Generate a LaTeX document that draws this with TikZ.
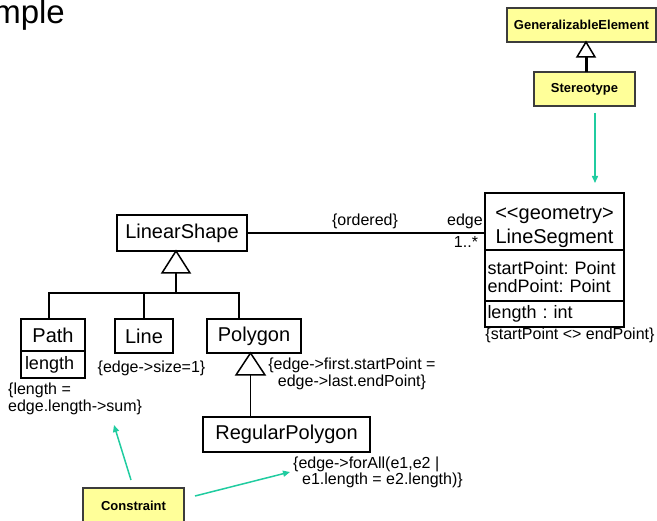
\documentclass[tikz,border=0pt]{standalone}
\usepackage{fontspec}
\setmainfont{Liberation Sans}
\usetikzlibrary{arrows.meta}
\frenchspacing

\definecolor{noteyellow}{RGB}{255,255,153}
\definecolor{linkteal}{RGB}{32,204,160}
\definecolor{boxgray}{RGB}{60,60,60}

\tikzset{
  cls/.style={draw, line width=1.5pt, fill=white, inner sep=0pt, outer sep=0pt,
    font=\fontsize{20pt}{24pt}\selectfont},
  attr/.style={cls, font=\fontsize{18pt}{18pt}\selectfont, align=left, text width=134pt},
  stereobox/.style={draw=boxgray, line width=1.5pt, fill=noteyellow, inner sep=0pt,
    outer sep=0pt, font=\bfseries\fontsize{13pt}{15pt}\selectfont},
  note/.style={font=\fontsize{16pt}{17pt}\selectfont, inner sep=0pt},
  heading/.style={font=\fontsize{33pt}{36pt}\selectfont, inner sep=0pt},
  wire/.style={line width=1.5pt},
  gentri/.style={line width=1.5pt, fill=white, line join=miter},
  dep/.style={linkteal, line width=1.5pt, -{Triangle[length=7pt,width=6pt]}},
}

\begin{document}
\begin{tikzpicture}[x=1pt,y=-1pt]
\clip (0,0) rectangle (657,521);

% page heading, partly off the page
\node[heading, anchor=base east] (title) at (65,24) {Example};

% stereotype metamodel
\node[stereobox, minimum width=149pt, minimum height=34pt] (genel) at (581.5,25) {GeneralizableElement};
\node[stereobox, minimum width=101pt, minimum height=34pt] (stereo) at (584.5,89) {Stereotype};
\draw[line width=3pt] ([xshift=1.5pt]stereo.north) -- ([xshift=4.5pt,yshift=-15pt]genel.south);
\draw[gentri] ([xshift=4.5pt]genel.south) -- ++(9,15) -- ++(-18,0) -- cycle;

% LineSegment class
\node[cls, minimum width=139pt, minimum height=57pt, align=center]
  (ls-a) at (554.5,221.5) {\rule{0pt}{24pt}<\kern0pt<geometry>\\LineSegment};
\node[attr, minimum width=139pt, minimum height=51pt] (ls-b) at (554.5,275.5) {\rule{0pt}{17pt}startPoint: Point\\endPoint: Point};
\node[attr, minimum width=139pt, minimum height=26pt] (ls-c) at (554.5,314) {length : int};
\node[note, anchor=base] (lsnote) at (570,340) {\{startPoint <> endPoint\}};

% LinearShape and its subclasses
\node[cls, minimum width=130pt, minimum height=36pt] (linear) at (182,233) {LinearShape};
\node[cls, minimum width=64pt, minimum height=32pt] (path-a) at (53,335) {Path};
\node[attr, text width=56pt, minimum width=64pt, minimum height=27pt] (path-b) at (53,364.5) {length};
\node[cls, minimum width=58pt, minimum height=34pt] (line) at (144,336) {Line};
\node[cls, minimum width=94pt, minimum height=34pt] (poly) at (254,336) {Polygon};
\node[cls, minimum width=167pt, minimum height=35pt] (regpoly) at (286.5,434.5) {RegularPolygon};

% generalization tree
\draw[wire] ([xshift=-6pt]linear.south) -- ++(0,42) coordinate (bus);
\draw[wire] ([xshift=-4pt]path-a.north) |- (bus);
\draw[wire] ([xshift=-15pt]poly.north) |- (bus);
\draw[wire] (line.north) -- (line.north |- bus);
\draw[gentri] ([xshift=-6pt]linear.south) -- ++(14,22) -- ++(-28,0) -- cycle;

\draw[wire] ([xshift=-36pt]regpoly.north) -- ([xshift=-3.5pt]poly.south);
\draw[gentri] ([xshift=-3.5pt]poly.south) -- ++(14.5,22) -- ++(-29,0) -- cycle;

% association
\draw[wire] (linear.east) -- (linear.east -| ls-a.west);
\node[note, anchor=base] (ordered) at (365,226) {\{ordered\}};
\node[note, anchor=base] (rolename) at (465,226) {edge};
\node[note, anchor=base] (mult) at (466,248) {1..*};

% constraints
\node[note, anchor=base] (linenote) at (151.5,373) {\{edge->size=1\}};
\node[note, align=left, anchor=west] (pathnote) at (8,398.5) {\{length =\\edge.length->sum\}};
\node[note, align=center] (polynote) at (352,373.5)
  {\{edge->first.startPoint =\\edge->last.endPoint\}};
\node[note, align=left, anchor=west, font=\fontsize{16pt}{16pt}\selectfont] (regnote) at (293,472.5)
  {\{edge->forAll(e1,e2 |\\\hspace*{9pt}e1.length = e2.length)\}};

% Constraint element and its dependencies
\node[stereobox, minimum width=101pt, minimum height=36pt] (constraint) at (133.5,506) {Constraint};
\coordinate (pathnote-tip) at (114,425);
\coordinate (regnote-tip) at (290,472);
\draw[dep] ([xshift=10.5pt,yshift=-7pt]stereo.south) -- ([xshift=40.5pt,yshift=10pt]ls-a.north);
\draw[dep] ([xshift=-2.5pt,yshift=8pt]constraint.north) -- (pathnote-tip);
\draw[dep] ([xshift=11pt,yshift=10pt]constraint.east) -- (regnote-tip);
\end{tikzpicture}
\end{document}
